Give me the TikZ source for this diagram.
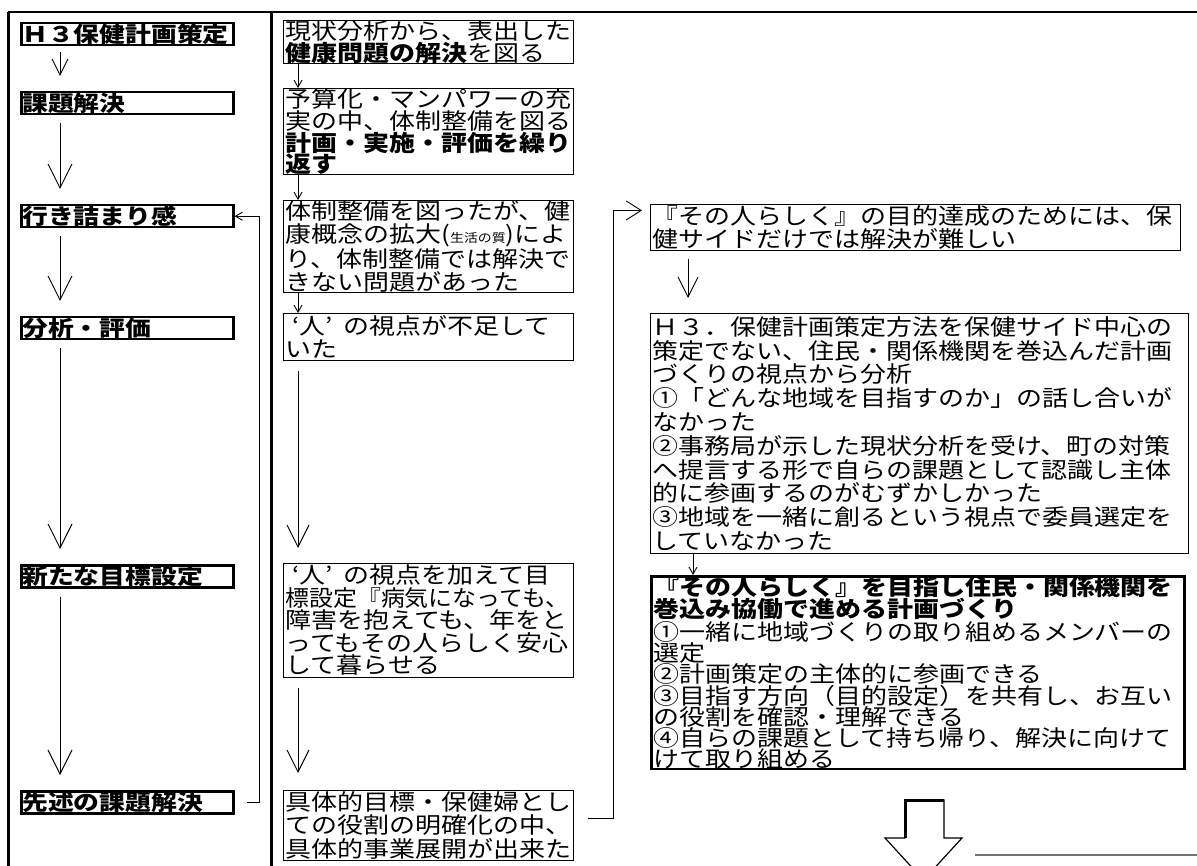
\documentclass[tikz,border=0pt]{standalone}
\usepackage{fontspec}
\setmainfont{Noto Sans CJK JP}[FakeStretch=1.16]
\newfontfamily\stagefam{Noto Sans CJK JP}[FakeStretch=1.2]
\usetikzlibrary{arrows.meta}

\newcommand{\stagefont}{\stagefam\fontsize{21.5}{21.5}\selectfont\bfseries}
\newcommand{\notefont}{\fontsize{22.4}{22.5}\selectfont}
\newcommand{\smallnote}[1]{{\fontsize{12}{12}\selectfont #1}}
\newcommand{\hito}{\hspace{0.3em}‘人’\hspace{0.5em}}

\tikzset{
  stagebox/.style={draw, line width=2.5pt, anchor=north west, inner xsep=1pt, inner ysep=0pt,
    text width=210pt, minimum height=22pt, align=left, font=\stagefont},
  notebox/.style={draw, line width=0.9pt, anchor=north west, inner xsep=2pt, inner ysep=0pt,
    align=left, font=\notefont},
  bigv/.style={line width=0.9pt, -{Straight Barb[length=#1,width=#1]}, shorten <=8pt, shorten >=15pt},
  bigv/.default=22pt,
  smallv/.style={line width=0.9pt, -{Straight Barb[length=7pt,width=8pt]}},
}

\begin{document}
\begin{tikzpicture}[x=1pt,y=-1pt]
        \useasboundingbox (0,0) rectangle (1197,866);
        \clip (0,0) rectangle (1197,866);

        % Frame and column divider
        \draw[line width=2pt] (8,12) -- (1197,12);
        \draw[line width=3pt] (8,12) -- (8,866);
        \draw[line width=3pt] (271,12) -- (271,866);

        % Left column stages
        \node[stagebox] (l1) at (20,22) {Ｈ３保健計画策定};
        \node[stagebox] (l2) at (20,91) {課題解決};
        \node[stagebox] (l3) at (20,204) {行き詰まり感};
        \node[stagebox] (l4) at (20,316) {分析・評価};
        \node[stagebox] (l5) at (20,564) {新たな目標設定};
        \node[stagebox] (l6) at (20,790) {先述の課題解決};

        \draw[bigv=16pt, shorten <=6pt] ([xshift=40pt]l1.south west) -- ([xshift=40pt]l2.north west);
        \foreach \a/\b in {l2/l3, l3/l4, l4/l5, l5/l6}
            \draw[bigv=24pt] ([xshift=40pt]\a.south west) -- ([xshift=40pt]\b.north west);

        % Back to the dead end
        \draw[smallv] ([xshift=12pt]l6.east) -- ++(13,0) |- (l3.east);

        % Middle column notes
        \node[notebox, text width=286pt, minimum height=43pt, font={\fontsize{22.4}{21}\selectfont}] (m1) at (283,20)
            {現状分析から、表出した\\\textbf{健康問題の解決}を図る};
        \node[notebox, text width=286pt, minimum height=82pt, font={\fontsize{22.4}{20}\selectfont}] (m2) at (283,88)
            {予算化・マンパワーの充\\実の中、体制整備を図る\\\textbf{計画・実施・評価を繰り}\\\textbf{返す}};
        \node[notebox, text width=286pt, minimum height=92pt, font={\fontsize{22.4}{23}\selectfont}] (m3) at (283,200)
            {体制整備を図ったが、健\\康概念の拡大(\smallnote{生活の質})によ\\り、体制整備では解決で\\きない問題があった};
        \node[notebox, text width=286pt, minimum height=47pt] (m4) at (283,313)
            {\hito の視点が不足して\\いた};
        \node[notebox, text width=286pt, minimum height=114pt] (m5) at (283,563)
            {\hito の視点を加えて目\\\scalebox{0.92}[1]{標設定『病気になっても、}\\障害を抱えても、年をと\\ってもその人らしく安心\\して暮らせる};
        \node[notebox, text width=286pt, minimum height=70pt, font={\fontsize{22.4}{23.5}\selectfont}] (m6) at (283,790)
            {具体的目標・保健婦とし\\ての役割の明確化の中、\\具体的事業展開が出来た};

        \foreach \a/\b in {m1/m2, m2/m3, m3/m4}
            \draw[smallv] ([xshift=15pt]\a.south west) -- ([xshift=15pt]\b.north west);
        \draw[bigv, shorten <=10pt] ([xshift=15pt]m4.south west) -- ([xshift=15pt]m5.north west);
        \draw[bigv, shorten <=10pt, shorten >=17pt] ([xshift=15pt]m5.south west) -- ([xshift=15pt]m6.north west);

        % Right column notes
        \node[notebox, text width=526pt, minimum height=46pt] (r1) at (650,204)
            {『その人らしく』の目的達成のためには、保\\健サイドだけでは解決が難しい};
        \node[notebox, text width=534pt, minimum height=240pt, font={\fontsize{22.4}{23.8}\selectfont}] (r2) at (650,313)
            {Ｈ３．保健計画策定方法を保健サイド中心の\\策定でない、住民・関係機関を巻込んだ計画\\づくりの視点から分析\\①「どんな地域を目指すのか」の話し合いが\\なかった\\②事務局が示した現状分析を受け、町の対策\\へ提言する形で自らの課題として認識し主体\\的に参画するのがむずかしかった\\③地域を一緒に創るという視点で委員選定を\\していなかった};
        \node[notebox, line width=2.5pt, text width=529pt, minimum height=190pt, font={\fontsize{22.4}{21}\selectfont}] (r3) at (650,575)
            {\textbf{『その人らしく』を目指し住民・関係機関を}\\\textbf{巻込み協働で進める計画づくり}\\①一緒に地域づくりの取り組めるメンバーの\\選定\\②計画策定の主体的に参画できる\\③目指す方向（目的設定）を共有し、お互い\\の役割を確認・理解できる\\④自らの課題として持ち帰り、解決に向けて\\けて取り組める};

        \draw[bigv=20pt] ([xshift=38pt]r1.south west) -- ([xshift=38pt]r2.north west);
        \draw[smallv] ([xshift=43pt]r2.south west) -- ([xshift=43pt]r3.north west);

        % From concrete work over to the right column
        \draw[line width=0.9pt, -{Straight Barb[length=15pt,width=19pt]}, shorten >=8pt]
            ([xshift=14pt,yshift=7pt]m6.east) -- ++(26,0) |- ([yshift=17pt]r1.west);

        % Hollow arrow at the bottom
        \draw[line width=1.2pt] (905,800) -- (944,800) -- (944,838) -- (962,838) -- (923.5,880)
            -- (885,838) -- (905,838) -- cycle;
        \draw[line width=3pt] (905,838) -- (905,800) -- (944,800);
        \draw[line width=1.5pt, black!55] (975,855) -- (1197,855);
\end{tikzpicture}
\end{document}
